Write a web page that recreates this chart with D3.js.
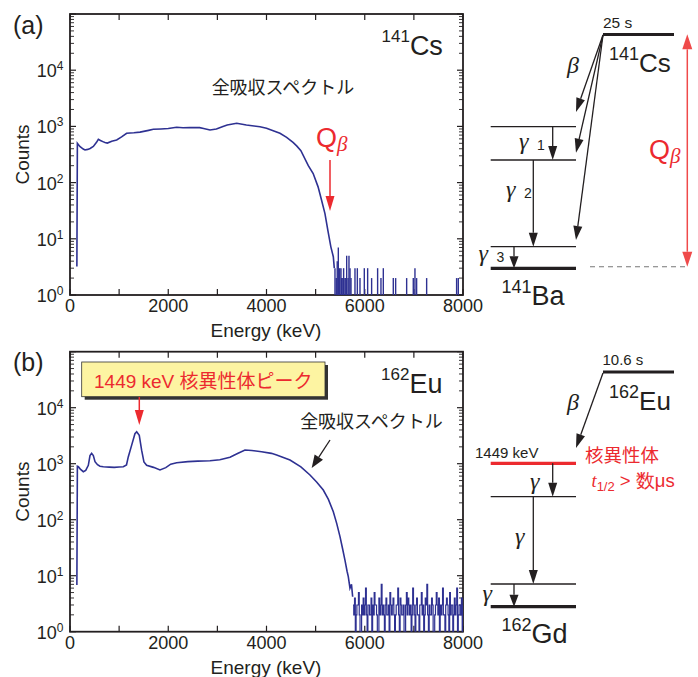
<!DOCTYPE html>
<html>
<head>
<meta charset="utf-8">
<script src="https://cdn.jsdelivr.net/npm/d3@7"></script>
<style>
body { margin: 0; background: #fff; }
text { font-family: "Liberation Sans", Arial, sans-serif; fill: #231f20; }
.jp { font-family: "Noto Sans CJK JP", sans-serif; }
.gr { font-family: "Liberation Serif", serif; font-style: italic; }
</style>
</head>
<body>
<svg id="fig" width="698" height="677"></svg>
<script>
// spectrum (a) 141Cs  [keV, counts]
var specA = [[140,3.2],[150,500],[200,440],[270,395],[305,380],[360,390],[410,405],[475,440],[540,520],[577,590],[620,560],[680,530],[712,515],[760,505],[850,545],[950,575],[1050,650],[1153,754],[1300,770],[1425,790],[1600,850],[1696,888],[1850,900],[2000,915],[2171,964],[2300,945],[2440,955],[2640,950],[2720,920],[2850,863],[2980,900],[3100,990],[3200,1060],[3393,1135],[3590,1060],[3867,988],[4000,930],[4150,830],[4274,754],[4410,640],[4540,520],[4614,450],[4700,370],[4851,200],[4950,145],[5050,84],[5120,49],[5190,28],[5250,14],[5310,7.2],[5360,4.8],[5380,3]];
// counts above Qb, (a)
var tailA = [[5394,3],[5420,2],[5440,4],[5462,7],[5490,3],[5516,3],[5530,2],[5540,2],[5570,3],[5597,2],[5615,2],[5632,5],[5660,2],[5679,5],[5700,3],[5720,2],[5801,3],[5849,3],[5903,2],[5991,3],[6059,3],[6140,2],[6262,3],[6330,2],[6378,3],[6581,2],[6629,2],[6853,2],[6988,2],[7022,3],[7056,2],[7260,2],[7870,2],[7904,2]];

// spectrum (b) 162Eu
var specB = [[140,6.8],[150,900],[170,884],[210,800],[271,719],[320,760],[373,935],[407,1400],[440,1535],[475,1400],[509,1086],[560,960],[610,900],[678,884],[800,870],[900,860],[1000,875],[1085,884],[1150,950],[1186,1320],[1254,2125],[1322,3430],[1357,3727],[1410,3200],[1458,1740],[1505,1075],[1560,935],[1700,860],[1832,772],[1950,850],[2050,980],[2172,1042],[2400,1090],[2600,1110],[2850,1132],[3050,1180],[3257,1300],[3400,1500],[3562,1758],[3700,1720],[3900,1640],[4100,1530],[4207,1430],[4478,1164],[4700,880],[4885,628],[5020,470],[5156,339],[5260,230],[5360,139],[5430,85],[5496,50],[5550,30],[5597,19],[5640,12],[5665,9.6],[5699,6],[5730,7],[5754,4.2]];
// background channels after the edge, (b)
var tailBStart = 5760, tailBWidth = 16;
var tailB = [3,2,4,0,2,3,3,5,2,0,0,3,2,4,2,3,6,2,0,3,3,2,2,4,0,3,2,5,3,3,2,0,0,4,2,3,7,2,3,2,0,3,4,2,2,3,0,5,3,2,3,4,2,0,2,3,3,6,2,0,4,3,2,2,3,0,0,3,5,2,4,3,2,3,0,2,6,3,2,0,3,4,2,2,0,3,3,5,2,3,0,2,4,3,7,2,0,3,2,2,4,3,0,0,2,3,5,3,2,4,0,3,2,3,6,2,2,0,3,4,3,2,0,5,2,3,3,0,2,4,2,3,6,0,2,3,3,2,4,0,3];

var xTicks = [0,1000,2000,3000,4000,5000,6000,7000,8000];
var xLabels = [0,2000,4000,6000,8000];
var decades = [0,1,2,3,4,5];

var blue = "#2e3192", red = "#ec2a2f", ink = "#231f20";
var svg = d3.select("#fig");

var defs = svg.append("defs");

function panel(top, bottom, id) {
  var x = d3.scaleLinear().domain([0, 8000]).range([70, 463]);
  var y = d3.scaleLog().domain([1, 1e5]).range([bottom, top]);
  defs.append("clipPath").attr("id", id).append("rect")
    .attr("x", 70).attr("y", top).attr("width", 393).attr("height", bottom - top);
  var g = svg.append("g");
  // minor + major y ticks, both sides
  decades.forEach(function(d) {
    var v0 = Math.pow(10, d);
    [70, 463].forEach(function(ax, i) {
      var s = i == 0 ? 1 : -1;
      g.append("line").attr("x1", ax).attr("x2", ax + s * 6).attr("y1", y(v0)).attr("y2", y(v0))
        .attr("stroke", ink).attr("stroke-width", 1.2);
      if (d < 5) for (var m = 2; m < 10; m++) {
        g.append("line").attr("x1", ax).attr("x2", ax + s * 4).attr("y1", y(m * v0)).attr("y2", y(m * v0))
          .attr("stroke", ink).attr("stroke-width", 0.9);
      }
    });
  });
  xTicks.forEach(function(t) {
    g.append("line").attr("x1", x(t)).attr("x2", x(t)).attr("y1", bottom).attr("y2", bottom - 6).attr("stroke", ink).attr("stroke-width", 1.2);
    g.append("line").attr("x1", x(t)).attr("x2", x(t)).attr("y1", top).attr("y2", top + 6).attr("stroke", ink).attr("stroke-width", 1.2);
  });
  xLabels.forEach(function(t) {
    g.append("text").attr("x", x(t)).attr("y", bottom + 17).attr("text-anchor", "middle")
      .style("font-size", "18px").text(t);
  });
  decades.slice(0, 5).forEach(function(d) {
    var t = g.append("text").attr("x", 63.5).attr("y", y(Math.pow(10, d)) + 7).attr("text-anchor", "end")
      .style("font-size", "18px");
    t.append("tspan").text("10");
    t.append("tspan").attr("dy", -7).style("font-size", "12px").text(d);
  });
  g.append("rect").attr("x", 70).attr("y", top).attr("width", 393).attr("height", bottom - top)
    .attr("fill", "none").attr("stroke", ink).attr("stroke-width", 1.8);
  g.append("text").attr("x", 266).attr("y", bottom + 42).attr("text-anchor", "middle")
    .style("font-size", "19px").text("Energy (keV)");
  g.append("text").attr("transform", "translate(29," + (top + bottom) / 2 + ") rotate(-90)")
    .attr("text-anchor", "middle").style("font-size", "19px").text("Counts");
  return {x: x, y: y, g: g, clip: "url(#" + id + ")"};
}

var line = function(p) {
  return d3.line().x(function(d) { return p.x(d[0]); }).y(function(d) { return p.y(Math.max(1, d[1])); });
};

function arrow(g, x1, y1, x2, y2, col, hl, hw, sw) {
  var a = Math.atan2(y2 - y1, x2 - x1);
  var bx = x2 - hl * Math.cos(a), by = y2 - hl * Math.sin(a);
  g.append("line").attr("x1", x1).attr("y1", y1).attr("x2", bx).attr("y2", by)
    .attr("stroke", col).attr("stroke-width", sw || 1.3);
  var px = -Math.sin(a) * hw, py = Math.cos(a) * hw;
  g.append("path").attr("d", "M" + x2 + "," + y2 + "L" + (bx + px) + "," + (by + py) + "L" + (bx - px) + "," + (by - py) + "Z")
    .attr("fill", col);
}

function sup(g, x, y, s, big, fs1, fs2, dy) {
  var t = g.append("text").attr("x", x).attr("y", y).style("font-size", fs2 + "px");
  t.append("tspan").style("font-size", fs1 + "px").attr("dy", -dy).text(s);
  t.append("tspan").attr("dy", dy).text(big);
  return t;
}

// ---------- (a)
var pa = panel(14, 295, "ca");
pa.g.append("path").datum(specA).attr("d", line(pa)).attr("fill", "none").attr("stroke", blue)
  .attr("stroke-width", 1.6).attr("clip-path", pa.clip);
pa.g.selectAll(".spk").data(tailA).enter().append("line")
  .attr("x1", function(d) { return pa.x(d[0]); }).attr("x2", function(d) { return pa.x(d[0]); })
  .attr("y1", pa.y(1)).attr("y2", function(d) { return pa.y(d[1]); })
  .attr("stroke", blue).attr("stroke-width", 1.4);

svg.append("text").attr("x", 13).attr("y", 34).style("font-size", "25px").text("(a)");
sup(svg, 381.5, 55, "141", "Cs", 17, 27, 13);
svg.append("text").attr("class", "jp").attr("x", 283).attr("y", 94).attr("text-anchor", "middle")
  .style("font-size", "18px").text("全吸収スペクトル");
var qa = svg.append("text").attr("x", 316).attr("y", 147).style("font-size", "27px").style("fill", red);
qa.append("tspan").text("Q");
qa.append("tspan").attr("class", "gr").attr("dy", 4).style("font-size", "21px").style("fill", red).text("β");
arrow(svg, 330, 160, 330, 211, red, 15, 4.5, 1.5);

// ---------- (b)
var pb = panel(351.7, 631.7, "cb");
pb.g.append("path").datum(specB).attr("d", line(pb)).attr("fill", "none").attr("stroke", blue)
  .attr("stroke-width", 1.6).attr("clip-path", pb.clip);
var tb = tailB.map(function(c, i) { return [tailBStart + i * tailBWidth, c]; });
pb.g.append("path").datum(tb).attr("d", line(pb).curve(d3.curveStepAfter)).attr("fill", "none")
  .attr("stroke", blue).attr("stroke-width", 1.2).attr("clip-path", pb.clip);

svg.append("text").attr("x", 13).attr("y", 371).style("font-size", "25px").text("(b)");
sup(svg, 381, 393.3, "162", "Eu", 17, 27, 13);
svg.append("rect").attr("x", 84.7).attr("y", 365).attr("width", 243.3).attr("height", 34.7).attr("fill", "#333");
svg.append("rect").attr("x", 81.7).attr("y", 362).attr("width", 243.3).attr("height", 34.7)
  .attr("fill", "#fdf4a2").attr("stroke", "#333").attr("stroke-width", 0.8);
var lb = svg.append("text").attr("x", 203.3).attr("y", 387.5).attr("text-anchor", "middle").style("font-size", "19px").style("fill", red);
lb.append("tspan").style("fill", red).text("1449 keV ");
lb.append("tspan").attr("class", "jp").style("fill", red).text("核異性体ピーク");
arrow(svg, 139.3, 397, 139.3, 425, red, 15, 4.5, 1.5);
svg.append("text").attr("class", "jp").attr("x", 371.5).attr("y", 428).attr("text-anchor", "middle")
  .style("font-size", "18px").text("全吸収スペクトル");
arrow(svg, 330, 440, 311.7, 468, ink, 13, 5, 1.3);

// ---------- level schemes
var d = svg.append("g");
function level(y, col, w, x1, x2) {
  d.append("line").attr("x1", x1 || 490.7).attr("x2", x2 || 576).attr("y1", y).attr("y2", y)
    .attr("stroke", col || ink).attr("stroke-width", w);
}
function gam(x, y, sub) {
  d.append("text").attr("x", x).attr("y", y).attr("class", "gr").style("font-size", "24px").text("γ");
  if (sub) d.append("text").attr("x", x + 18).attr("y", y + 1).style("font-size", "14px").text(sub);
}

// 141Cs -> 141Ba
level(34.5, ink, 3, 603, 674);
d.append("text").attr("x", 603).attr("y", 28).style("font-size", "15.5px").text("25 s");
sup(d, 609, 71.7, "141", "Cs", 18, 26, 12);
d.append("text").attr("class", "gr").attr("x", 567).attr("y", 73).style("font-size", "24px").text("β");
[112, 152.7, 240].forEach(function(yy) { arrow(d, 603, 35, 576, yy, ink, 14, 4.5, 1.3); });
level(126.7, ink, 1.3); level(160, ink, 1.3); level(246.7, ink, 1.3); level(268.3, ink, 3.2);
arrow(d, 552.7, 126.7, 552.7, 160, ink, 14, 4.5, 1.3);
arrow(d, 533.3, 160, 533.3, 246.7, ink, 14, 4.5, 1.3);
arrow(d, 514, 246.7, 514, 268.3, ink, 12, 4.5, 1.3);
gam(519, 149, "1"); gam(506, 197, "2"); gam(478.5, 261, "3");
sup(d, 501.5, 305, "141", "Ba", 18, 27, 12);
d.append("line").attr("x1", 590).attr("x2", 687).attr("y1", 266.7).attr("y2", 266.7)
  .attr("stroke", "#777").attr("stroke-width", 1.1).attr("stroke-dasharray", "5,4");
arrow(d, 687.3, 150, 687.3, 34.3, "#ef4a4a", 15, 5, 1.5);
arrow(d, 687.3, 150, 687.3, 266.7, "#ef4a4a", 15, 5, 1.5);
var qd = d.append("text").attr("x", 649).attr("y", 159).style("font-size", "27px").style("fill", red);
qd.append("tspan").style("fill", red).text("Q");
qd.append("tspan").attr("class", "gr").attr("dy", 4).style("font-size", "21px").style("fill", red).text("β");

// 162Eu -> 162Gd
level(372, ink, 3, 603, 674);
d.append("text").attr("x", 602.5).attr("y", 365).style("font-size", "15px").text("10.6 s");
sup(d, 609, 410, "162", "Eu", 18, 26, 12);
d.append("text").attr("class", "gr").attr("x", 567).attr("y", 410).style("font-size", "24px").text("β");
arrow(d, 603, 373, 576, 448, ink, 14, 4.5, 1.3);
level(463.3, red, 3.2);
d.append("text").attr("x", 475).attr("y", 457.5).style("font-size", "15px").text("1449 keV");
d.append("text").attr("class", "jp").attr("x", 585).attr("y", 462).style("font-size", "18.5px").style("fill", red).text("核異性体");
var th = d.append("text").attr("x", 591.5).attr("y", 487).style("font-size", "18.5px").style("fill", red);
th.append("tspan").attr("class", "gr").style("fill", red).text("t");
th.append("tspan").attr("dy", 4).style("font-size", "13px").style("fill", red).text("1/2");
th.append("tspan").attr("dy", -4).style("fill", red).text(" > 数μs");
level(496.7, ink, 1.3); level(584, ink, 1.3); level(606.7, ink, 3.2);
arrow(d, 552.7, 463.3, 552.7, 496.7, ink, 14, 4.5, 1.3);
arrow(d, 533.3, 496.7, 533.3, 584, ink, 14, 4.5, 1.3);
arrow(d, 514, 584, 514, 606.7, ink, 12, 4.5, 1.3);
gam(530, 489); gam(515, 544); gam(482.5, 601);
sup(d, 501.5, 643.3, "162", "Gd", 18, 27, 12);
</script>
</body>
</html>
